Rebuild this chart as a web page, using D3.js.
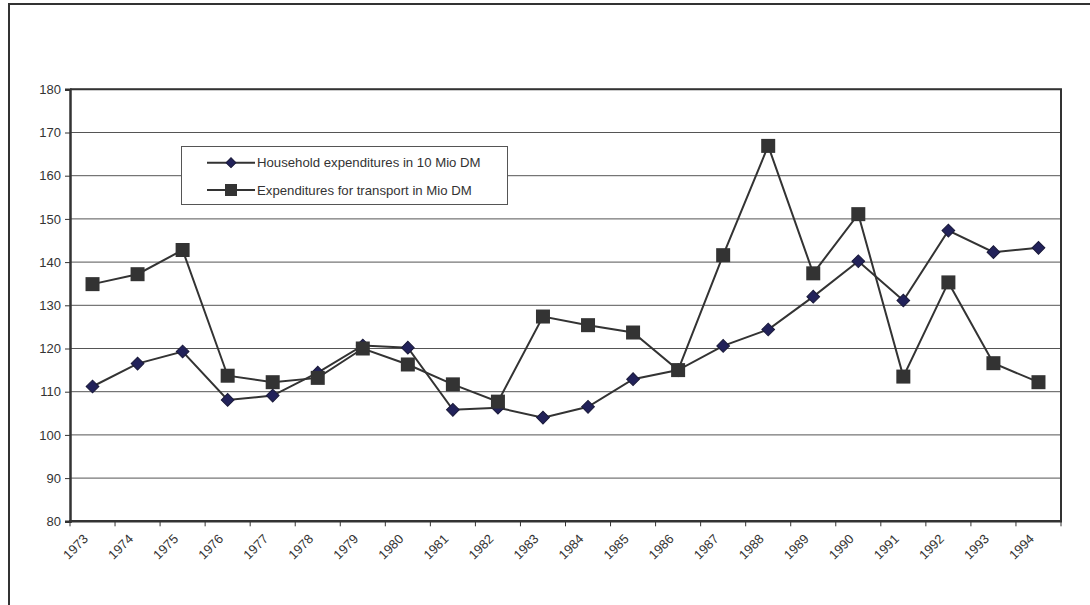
<!DOCTYPE html>
<html>
<head>
<meta charset="utf-8">
<script src="https://cdn.jsdelivr.net/npm/d3@7"></script>
<style>
  html, body { margin: 0; padding: 0; background: #fff; }
  svg { display: block; font-family: "Liberation Sans", Arial, sans-serif; }
</style>
</head>
<body>
<svg id="chart" width="1090" height="605"></svg>
<script>
// Years on the category axis
const years = ["1973","1974","1975","1976","1977","1978","1979","1980","1981","1982","1983",
               "1984","1985","1986","1987","1988","1989","1990","1991","1992","1993","1994"];

// Household expenditures in 10 Mio DM
const household = [111.2, 116.5, 119.3, 108.1, 109.1, 114.4, 120.7, 120.2, 105.8, 106.3, 104.0,
                   106.5, 112.9, 115.0, 120.6, 124.4, 132.0, 140.2, 131.1, 147.3, 142.3, 143.3];

// Expenditures for transport in Mio DM
const transport = [134.9, 137.2, 142.8, 113.7, 112.2, 113.2, 120.0, 116.3, 111.7, 107.7, 127.4,
                   125.4, 123.7, 115.0, 141.6, 166.9, 137.4, 151.1, 113.5, 135.3, 116.6, 112.2];

const yTicks = [80, 90, 100, 110, 120, 130, 140, 150, 160, 170, 180];

const seriesNames = ["Household expenditures in 10 Mio DM", "Expenditures for transport in Mio DM"];

const svg = d3.select("#chart");

// Outer chart frame (left and top edges visible)
svg.append("rect")
  .attr("x", 9).attr("y", 4)
  .attr("width", 1100).attr("height", 620)
  .attr("fill", "none")
  .attr("stroke", "#333")
  .attr("stroke-width", 2);

const plot = { left: 70, top: 89.3, right: 1061, bottom: 521.3 };

const x = d3.scaleBand().domain(years).range([plot.left, plot.right]).padding(0);
const y = d3.scaleLinear().domain([80, 180]).range([plot.bottom, plot.top]);
const cx = d => x(d) + x.bandwidth() / 2;

// Horizontal gridlines
svg.append("g")
  .selectAll("line")
  .data(yTicks.slice(1))
  .join("line")
  .attr("x1", plot.left).attr("x2", plot.right)
  .attr("y1", d => y(d)).attr("y2", d => y(d))
  .attr("stroke", "#555")
  .attr("stroke-width", 1);

// Plot area border (top and right)
svg.append("path")
  .attr("d", `M${plot.left},${plot.top}H${plot.right}V${plot.bottom}`)
  .attr("fill", "none")
  .attr("stroke", "#333")
  .attr("stroke-width", 2);

// Y axis
const yAxis = svg.append("g")
  .attr("transform", `translate(${plot.left},0)`)
  .call(d3.axisLeft(y).tickValues(yTicks).tickSize(5).tickPadding(4).tickFormat(d3.format("d")));
yAxis.select(".domain").attr("stroke", "#333").attr("stroke-width", 2.5);
yAxis.selectAll(".tick line").attr("stroke", "#333");
yAxis.selectAll(".tick text")
  .attr("font-size", 13)
  .attr("fill", "#333")
  .attr("font-family", "Liberation Sans, Arial, sans-serif");

// X axis: ticks on category boundaries
const xAxisG = svg.append("g").attr("transform", `translate(0,${plot.bottom})`);
xAxisG.append("line")
  .attr("x1", plot.left - 1).attr("x2", plot.right + 1)
  .attr("stroke", "#333").attr("stroke-width", 2.5);
xAxisG.selectAll("line.tick")
  .data(years.concat(["end"]))
  .join("line")
  .attr("class", "tick")
  .attr("x1", (d, i) => plot.left + i * x.bandwidth())
  .attr("x2", (d, i) => plot.left + i * x.bandwidth())
  .attr("y1", 0).attr("y2", 5)
  .attr("stroke", "#333");
xAxisG.selectAll("text")
  .data(years)
  .join("text")
  .attr("transform", d => `translate(${cx(d) - 10},${12}) rotate(-45)`)
  .attr("text-anchor", "end")
  .attr("dy", "0.7em")
  .attr("font-size", 13)
  .attr("fill", "#333")
  .text(d => d);

// Lines
const line = d3.line().x((d, i) => cx(years[i])).y(d => y(d));

svg.append("path")
  .datum(household)
  .attr("d", line)
  .attr("fill", "none")
  .attr("stroke", "#333")
  .attr("stroke-width", 2);

svg.append("path")
  .datum(transport)
  .attr("d", line)
  .attr("fill", "none")
  .attr("stroke", "#333")
  .attr("stroke-width", 2);

// Markers: diamonds (rotated squares) and squares
svg.append("g").selectAll("rect")
  .data(household)
  .join("rect")
  .attr("transform", (d, i) => `translate(${cx(years[i])},${y(d)}) rotate(45)`)
  .attr("x", -4.5).attr("y", -4.5)
  .attr("width", 9).attr("height", 9)
  .attr("fill", "#22225a")
  .attr("stroke", "#1a1a3a")
  .attr("stroke-width", 1);

svg.append("g").selectAll("rect")
  .data(transport)
  .join("rect")
  .attr("x", (d, i) => cx(years[i]) - 7)
  .attr("y", d => y(d) - 7)
  .attr("width", 14).attr("height", 14)
  .attr("fill", "#333");

// Legend
const legend = svg.append("g");
legend.append("rect")
  .attr("x", 181.5).attr("y", 146.5)
  .attr("width", 326).attr("height", 58)
  .attr("fill", "#fff")
  .attr("stroke", "#555")
  .attr("stroke-width", 1);

const rows = [162.7, 190];
rows.forEach((ry, i) => {
  legend.append("line")
    .attr("x1", 207).attr("x2", 255)
    .attr("y1", ry).attr("y2", ry)
    .attr("stroke", "#333").attr("stroke-width", 2);
  if (i === 0) {
    legend.append("rect")
      .attr("transform", `translate(231,${ry}) rotate(45)`)
      .attr("x", -3.5).attr("y", -3.5)
      .attr("width", 7).attr("height", 7)
      .attr("fill", "#22225a")
      .attr("stroke", "#1a1a3a");
  } else {
    legend.append("rect")
      .attr("x", 225).attr("y", ry - 6)
      .attr("width", 12).attr("height", 12)
      .attr("fill", "#333");
  }
  legend.append("text")
    .attr("x", 257).attr("y", ry)
    .attr("dy", "0.35em")
    .attr("font-size", 13.2)
    .attr("fill", "#333")
    .text(seriesNames[i]);
});
</script>
</body>
</html>
